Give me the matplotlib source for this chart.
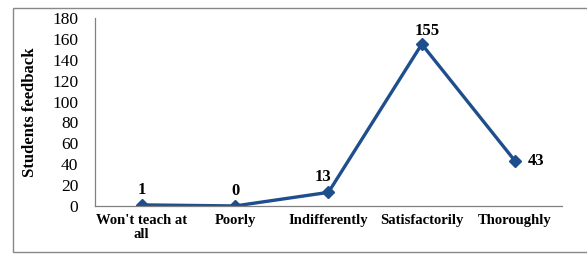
import matplotlib
matplotlib.use("Agg")
import matplotlib.pyplot as plt
from matplotlib.patches import Rectangle

categories = ["Won't teach at\nall", "Poorly", "Indifferently", "Satisfactorily", "Thoroughly"]
feedback = [1, 0, 13, 155, 43]
y_ticks = [0, 20, 40, 60, 80, 100, 120, 140, 160, 180]

# label offsets in points (dx, dy)
label_offsets = [(0, 5), (0, 5), (-4, 5), (4, 4), (9, 0)]

line_color = "#1f4e8c"
plt.rcParams["font.family"] = ["Liberation Serif", "DejaVu Serif"]

fig = plt.figure(figsize=(5.87, 2.62), dpi=100)
ax = fig.add_axes([0.162, 0.214, 0.795, 0.717])

x = list(range(len(categories)))
ax.plot(x, feedback, color=line_color, lw=2.4, marker="D", ms=6,
        markerfacecolor=line_color, markeredgecolor=line_color)

for xi, v, (dx, dy) in zip(x, feedback, label_offsets):
    ha = "left" if dx > 5 else "center"
    va = "center" if dx > 5 else "bottom"
    ax.annotate(str(v), (xi, v), xytext=(dx, dy), textcoords="offset points",
                ha=ha, va=va, fontsize=12, fontweight="bold")

ax.set_xlim(-0.5, len(categories) - 0.5)
ax.set_ylim(0, 180)
ax.set_yticks(y_ticks)
ax.set_xticks(x)
ax.set_xticklabels(categories, fontweight="bold", fontsize=10.5, linespacing=1.1)
ax.tick_params(axis="y", length=0, labelsize=12.5, pad=12)
ax.tick_params(axis="x", length=0, pad=6)
ax.set_ylabel("Students feedback", fontweight="bold", fontsize=12, labelpad=10)

for s in ["top", "right"]:
    ax.spines[s].set_visible(False)
for s in ["left", "bottom"]:
    ax.spines[s].set_color("#808080")
    ax.spines[s].set_linewidth(0.9)

# outer frame of the chart area
fig.patches.append(Rectangle((13 / 587, 10 / 262), 1.2, 244 / 262,
                             transform=fig.transFigure, fill=False,
                             edgecolor="#888888", lw=1.0))

fig.savefig("out.png", dpi=100)
